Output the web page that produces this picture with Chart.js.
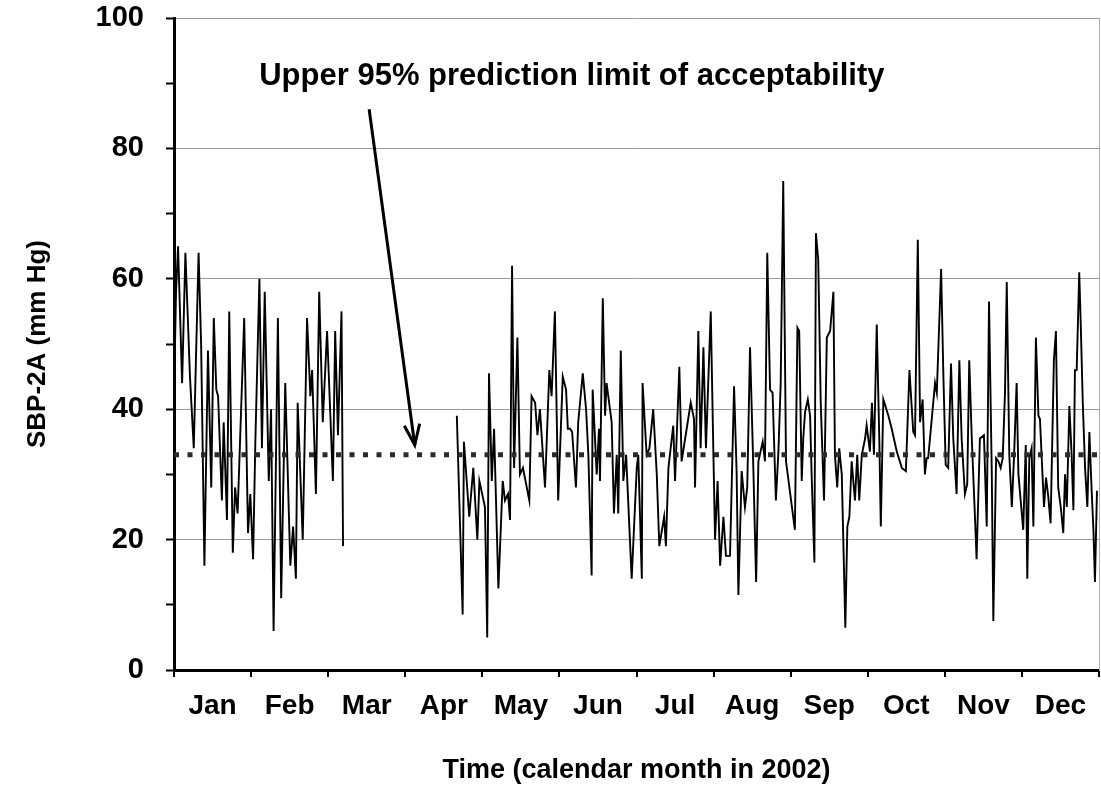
<!DOCTYPE html>
<html>
<head>
<meta charset="utf-8">
<script src="https://cdn.jsdelivr.net/npm/chart.js@4.4.1/dist/chart.umd.min.js"></script>
<style>
  html, body { margin: 0; padding: 0; background: #fff; }
  canvas { display: block; }
</style>
</head>
<body>
<canvas id="sbp" width="1101" height="809"></canvas>
<script>
const FONT = "'Liberation Sans', Arial, sans-serif";

const MONTHS = ['Jan', 'Feb', 'Mar', 'Apr', 'May', 'Jun', 'Jul', 'Aug', 'Sep', 'Oct', 'Nov', 'Dec'];
const DAYS_IN_YEAR = 365;
const LIMIT = 33;   // upper 95% prediction limit
const NOTE = 'Upper 95% prediction limit of acceptability';

// readings, Jan - early Mar (day of year)
const JANFEB_DAY = [0, 0.8, 1.6, 3.2, 4.5, 6.3, 7.8, 9.7, 10.7, 12.0,
  13.4, 14.7, 15.7, 16.7, 17.4, 18.9, 19.6, 20.9, 21.8, 23.2,
  24.1, 25.1, 27.7, 29.2, 30.1, 31.2, 32.1, 33.7, 34.7, 35.8,
  37.4, 38.3, 39.3, 41.0, 42.3, 43.9, 45.9, 47.0, 48.1, 48.8,
  50.8, 52.5, 53.8, 54.5, 56.0, 57.3, 58.7, 60.4, 62.7, 63.6,
  64.7, 66.1, 66.7];
const JANFEB_SBP = [42, 58, 65, 44, 64, 45, 34, 64, 50, 16,
  49, 28, 54, 43, 42, 26, 38, 23, 55, 18,
  28, 24, 54, 21, 27, 17, 35, 60, 34, 58,
  29, 40, 6, 54, 11, 44, 16, 22, 14, 41,
  20, 54, 42, 46, 27, 58, 38, 52, 29, 52,
  36, 55, 19];

// readings, late Apr - Dec
const APRDEC_DAY = [111.6, 113.9, 114.4, 116.5, 118.1, 119.7, 120.5, 122.7, 123.6, 124.3,
  125.4, 126.3, 128.0, 129.7, 130.6, 131.8, 132.6, 133.4, 134.2, 135.5,
  136.5, 137.7, 140.2, 141.1, 142.5, 143.4, 144.4, 146.4, 148.1, 149.0,
  150.3, 151.6, 153.4, 154.7, 155.4, 156.3, 157.1, 158.6, 159.5, 161.3,
  162.6, 163.5, 164.8, 165.2, 166.8, 167.7, 168.1, 169.2, 170.1, 170.7,
  172.7, 173.6, 174.7, 175.3, 176.3, 177.3, 178.4, 180.6, 182.6, 183.2,
  184.6, 184.9, 186.5, 187.6, 189.1, 190.5, 191.5, 193.4, 194.1, 195.1,
  197.0, 197.7, 199.4, 200.3, 202.3, 203.9, 205.2, 205.6, 206.9, 207.8,
  208.9, 209.9, 211.8, 212.8, 213.5, 214.5, 215.5, 216.8, 217.8, 219.4,
  221.0, 222.0, 222.7, 224.0, 225.3, 226.2, 227.3, 228.6, 229.7, 230.6,
  232.3, 233.2, 234.1, 235.2, 236.2, 237.5, 238.5, 239.4, 240.4, 241.5,
  245.0, 246.0, 246.7, 247.7, 248.3, 249.0, 250.1, 251.0, 251.6, 252.7,
  253.3, 254.2, 255.2, 256.5, 257.6, 258.9, 260.2, 260.8, 261.7, 262.5,
  263.5, 264.4, 264.9, 265.7, 266.5, 267.4, 268.7, 269.6, 270.4, 271.4,
  272.7, 273.3, 274.6, 275.4, 276.2, 277.3, 278.3, 278.9, 279.9, 281.9,
  283.2, 285.2, 287.2, 288.8, 290.2, 291.7, 292.4, 293.5, 294.4, 295.4,
  296.3, 297.0, 297.6, 300.3, 301.0, 302.7, 303.6, 304.5, 305.5, 306.6,
  307.5, 308.8, 309.9, 310.8, 312.1, 313.0, 313.8, 314.8, 316.1, 316.7,
  318.0, 319.6, 320.7, 321.6, 322.7, 323.3, 324.4, 325.3, 326.2, 327.0,
  327.9, 328.6, 329.6, 330.6, 331.5, 332.5, 333.2, 335.1, 336.1, 336.7,
  337.5, 338.4, 339.1, 340.1, 341.1, 341.7, 342.4, 343.3, 344.1, 345.0,
  345.9, 347.2, 348.0, 348.9, 349.9, 350.9, 351.6, 352.3, 353.3, 354.2,
  354.9, 355.5, 356.2, 357.2, 357.8, 358.6, 359.5, 360.4, 361.2, 362.1,
  362.8, 363.4, 364.2];
const APRDEC_SBP = [39, 8.5, 35, 23.5, 31, 20, 29, 25, 5, 45.5,
  29, 37, 12.5, 29, 26, 27, 23, 62, 31, 51,
  30, 31, 26, 42, 41, 36, 40, 28, 46, 42,
  55, 26, 45, 43, 37, 37, 36.5, 28, 38, 45.5,
  40, 33, 14.5, 43, 30, 37, 29, 57, 39, 44,
  38, 24, 33, 24, 49, 29, 33, 14, 31, 33,
  14, 44, 33, 34, 40, 30, 19, 23.5, 19, 31,
  37.5, 29, 46.5, 32, 37, 41, 38.5, 28, 52, 34,
  49.5, 34, 55, 34, 20, 29, 16, 23.5, 17.5, 17.5,
  43.5, 30.5, 11.5, 30.5, 25, 28, 49.5, 31, 13.5, 32,
  35, 32, 64, 43, 42.5, 26, 33.5, 44, 75, 32,
  21.5, 52.5, 52, 29, 35.5, 39.5, 41.5, 39, 30, 16.5,
  67, 63, 41, 26, 51, 52, 58, 33, 28, 34,
  30, 15, 6.5, 22, 23.5, 32, 26, 33, 26, 33,
  35.5, 37.5, 33.5, 41, 33, 53, 35.5, 22, 41.5, 39,
  37, 33.5, 31, 30.5, 46, 36.5, 36, 66, 38, 41.5,
  30, 32.5, 32.5, 44, 42.5, 61.5, 45, 31.5, 31, 47,
  35.5, 27, 47.5, 35.5, 27, 28.5, 47.5, 35.5, 23, 17,
  35.5, 36, 22, 56.5, 30, 7.5, 32.5, 32, 31, 32.5,
  42.5, 59.5, 33, 25, 33, 44, 30, 21.5, 34.5, 14,
  32.5, 34, 22, 51, 39, 38.5, 32.5, 25, 29.5, 26.5,
  22.5, 47.5, 52, 28, 25, 21, 30, 25, 40.5, 33,
  24.5, 46, 46, 61, 53, 41, 31, 25, 36.5, 27.5,
  21.5, 13.5, 27.5];

const toPoints = (days, vals) => days.map((d, i) => ({ x: d, y: vals[i] }));

// null point breaks the line over the Mar/Apr gap in the record
const series = toPoints(JANFEB_DAY, JANFEB_SBP)
  .concat([{ x: 90, y: null }], toPoints(APRDEC_DAY, APRDEC_SBP));

// annotation text + arrow pointing down at the limit line
const noteArrow = {
  id: 'noteArrow',
  afterDatasetsDraw(chart) {
    const { ctx, scales: { x, y } } = chart;
    ctx.save();
    ctx.fillStyle = '#000';
    ctx.font = 'bold 31px ' + FONT;
    ctx.textAlign = 'center';
    ctx.textBaseline = 'middle';
    ctx.fillText(NOTE, x.getPixelForValue(157), y.getPixelForValue(91));

    const x0 = x.getPixelForValue(77), y0 = y.getPixelForValue(86);
    const x1 = x.getPixelForValue(95), y1 = y.getPixelForValue(LIMIT + 1.5);
    ctx.strokeStyle = '#000';
    ctx.lineWidth = 3;
    ctx.beginPath();
    ctx.moveTo(x0, y0);
    ctx.lineTo(x1, y1);
    ctx.stroke();

    const ang = Math.atan2(y1 - y0, x1 - x0);
    const len = 22, spread = 0.36;
    ctx.beginPath();
    ctx.moveTo(x1 - len * Math.cos(ang - spread), y1 - len * Math.sin(ang - spread));
    ctx.lineTo(x1, y1);
    ctx.lineTo(x1 - len * Math.cos(ang + spread), y1 - len * Math.sin(ang + spread));
    ctx.stroke();
    ctx.restore();
  }
};

Chart.defaults.color = '#000';
Chart.defaults.font.family = FONT;
Chart.defaults.font.weight = 'bold';

new Chart(document.getElementById('sbp'), {
  type: 'line',
  data: {
    datasets: [
      {
        label: 'Upper 95% limit',
        data: [{ x: 0, y: LIMIT }, { x: DAYS_IN_YEAR, y: LIMIT }],
        borderColor: '#2a2a2a',
        borderWidth: 5,
        borderDash: [5, 8.5],
        borderCapStyle: 'butt',
        pointRadius: 0,
        order: 0
      },
      {
        label: 'SBP-2A',
        data: series,
        borderColor: '#000',
        borderWidth: 1.9,
        pointRadius: 0,
        tension: 0,
        spanGaps: false,
        order: 1
      }
    ]
  },
  plugins: [noteArrow],
  options: {
    responsive: false,
    animation: false,
    devicePixelRatio: 1,
    layout: { padding: { left: 0, right: 2, top: 18, bottom: 0 } },
    plugins: {
      legend: { display: false },
      tooltip: { enabled: false }
    },
    scales: {
      x: {
        type: 'linear',
        min: 0,
        max: DAYS_IN_YEAR,
        display: false
      },
      months: {
        type: 'category',
        labels: MONTHS,
        position: 'bottom',
        offset: true,
        grid: { offset: true, drawOnChartArea: false, color: '#000', lineWidth: 2, tickLength: 7 },
        border: { display: true, color: '#000', width: 3 },
        ticks: { font: { size: 28, weight: 'bold' }, padding: 12, maxRotation: 0, autoSkip: false },
        title: {
          display: true,
          text: 'Time (calendar month in 2002)',
          font: { size: 27, weight: 'bold' },
          padding: { top: 0, bottom: 22 }
        },
        afterFit(scale) { scale.height = 139; }
      },
      y: {
        min: 0,
        max: 100,
        ticks: {
          stepSize: 5,
          font: { size: 29, weight: 'bold' },
          padding: 22,
          callback: v => (v % 20 === 0 ? v : '')
        },
        grid: {
          color: c => (c.tick && c.tick.value % 20 === 0 && c.tick.value > 0 ? '#9a9a9a' : 'transparent'),
          tickColor: '#000',
          tickWidth: 2,
          tickLength: 8
        },
        border: { display: true, color: '#000', width: 3 },
        title: {
          display: true,
          text: 'SBP-2A (mm Hg)',
          font: { size: 26, weight: 'bold' },
          padding: { top: 22, bottom: 0 }
        },
        afterFit(scale) {
          scale.width = 174;
          // labels may poke past the plot edges; keep the plot box fixed
          scale.paddingTop = 0;
          scale.paddingBottom = 0;
        }
      },
      yRight: {
        position: 'right',
        min: 0,
        max: 100,
        ticks: { display: false },
        grid: { drawOnChartArea: false, drawTicks: false },
        border: { display: true, color: '#b0b0b0', width: 1 },
        afterFit(scale) { scale.width = 0; }
      }
    }
  }
});
</script>
</body>
</html>
